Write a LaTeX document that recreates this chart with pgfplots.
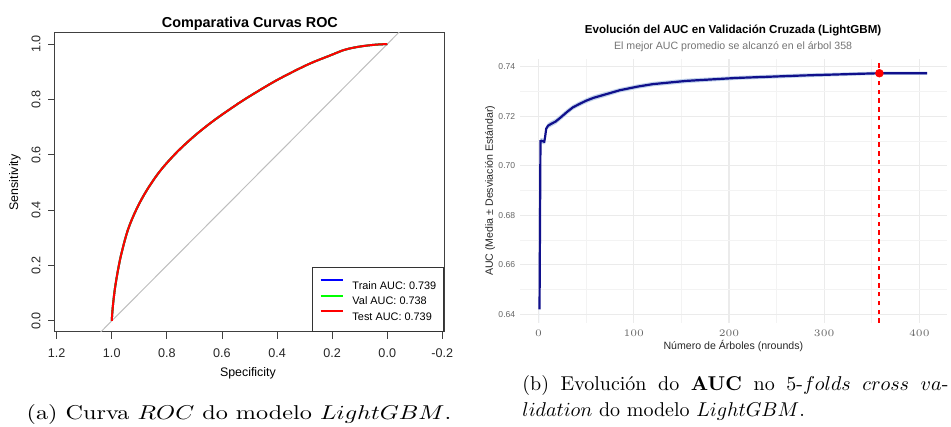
\documentclass[border=0pt]{standalone}
\usepackage{fontspec}
\usepackage{pgfplots}
\usepackage{pgfplotstable}
\pgfplotsset{compat=1.18}
\newfontfamily\arial{Liberation Sans}
\definecolor{diaggray}{HTML}{BEBEBE}
\definecolor{aucblue}{HTML}{10108C}
\definecolor{ribbon}{HTML}{C0D2EA}
\definecolor{gridmaj}{HTML}{EBEBEB}
\definecolor{gridmin}{HTML}{F3F3F3}

% ROC curve (specificity, sensitivity)
\pgfplotstableread{
spec  sens
1.000 0.000
0.998 0.030
0.994 0.072
0.988 0.120
0.978 0.180
0.965 0.243
0.941 0.330
0.910 0.404
0.874 0.470
0.825 0.541
0.765 0.608
0.700 0.668
0.632 0.722
0.559 0.773
0.510 0.805
0.437 0.849
0.389 0.876
0.316 0.913
0.268 0.935
0.207 0.959
0.159 0.978
0.122 0.987
0.086 0.993
0.040 0.998
0.000 1.000
}\roc

% mean AUC by number of trees
\pgfplotstableread{
n    m
1    0.6420
2    0.7100
3    0.7101
4    0.7100
6    0.7097
7    0.7120
8    0.7150
10   0.7162
13   0.7169
18   0.7179
24   0.7198
30   0.7218
36   0.7236
43   0.7250
50   0.7263
58   0.7275
68   0.7286
85   0.7305
104  0.7320
120  0.7330
155  0.7343
208  0.7355
278  0.7365
330  0.7371
358  0.7374
408  0.7374
}\cv

% mean +/- sd band: upper edge left to right, lower edge right to left
\pgfplotstableread{
n    v
1    0.6431
2    0.7111
3    0.7112
4    0.7111
6    0.7108
7    0.7131
8    0.7161
10   0.7173
13   0.7180
18   0.7190
24   0.7209
30   0.7229
36   0.7246
43   0.7260
50   0.7273
58   0.7285
68   0.7296
85   0.7314
104  0.7329
120  0.7339
155  0.7352
208  0.7363
278  0.7373
330  0.7378
358  0.7381
408  0.7381
408  0.7367
358  0.7367
330  0.7364
278  0.7357
208  0.7347
155  0.7334
120  0.7321
104  0.7311
85   0.7296
68   0.7276
58   0.7265
50   0.7253
43   0.7240
36   0.7226
30   0.7207
24   0.7187
18   0.7168
13   0.7158
10   0.7151
8    0.7139
7    0.7109
6    0.7086
4    0.7089
3    0.7090
2    0.7089
1    0.6409
}\band

\begin{document}
\begin{tikzpicture}

% ---- left: ROC curves
\begin{axis}[
  at={(27.5pt,47.5pt)}, anchor=south west,
  scale only axis, width=194.5pt, height=149.5pt,
  clip mode=individual,
  x dir=reverse,
  xmin=-0.206, xmax=1.206, ymin=-0.04, ymax=1.04,
  xtick={-0.2,0,0.2,0.4,0.6,0.8,1.0,1.2},
  xticklabels={-0.2,0.0,0.2,0.4,0.6,0.8,1.0,1.2},
  ytick={0,0.2,0.4,0.6,0.8,1.0},
  yticklabels={0.0,0.2,0.4,0.6,0.8,1.0},
  tick pos=left, tick align=outside, major tick length=3.3pt,
  axis line style={black!75, line width=0.5pt},
  tick style={black!75, line width=0.45pt},
  ticklabel style={font=\arial\fontsize{6.3}{7}\selectfont, text=black!85, inner sep=0pt},
  xticklabel style={anchor=north, yshift=-5pt},
  yticklabel style={xshift=-3.75pt, rotate=90, anchor=south},
  xlabel={Specificity},
  xlabel style={at={(axis description cs:0.496,-0.137)}, anchor=center,
    font=\arial\fontsize{6.2}{7}\selectfont},
  ylabel={Sensitivity},
  ylabel style={at={(axis description cs:-0.103,0.5)}, anchor=center,
    font=\arial\fontsize{6.2}{7}\selectfont},
  legend style={at={(1,0)}, anchor=south east, draw=black!80, line width=0.5pt,
    font=\arial\fontsize{5.45}{7}\selectfont, inner xsep=3.6pt, inner ysep=5.7pt,
    row sep=2.9pt, nodes={inner sep=0pt, text height=4.6pt, text depth=0pt},
    /tikz/every odd column/.append style={column sep=4.5pt}},
  legend cell align=left,
  legend image code/.code={\draw[#1, line width=0.9pt] (0pt,2.1pt) -- (11pt,2.1pt);},
]
\addplot[diaggray, line width=0.5pt, forget plot] coordinates {(1.3,-0.3) (-0.3,1.3)};
\addplot[blue, line width=1.0pt, smooth, tension=0.55] table[x=spec, y=sens] {\roc};
\addlegendentry{Train AUC: 0.739}
\addplot[green, line width=1.0pt, smooth, tension=0.55] table[x=spec, y=sens] {\roc};
\addlegendentry{Val AUC: 0.738}
\addplot[red, line width=1.0pt, smooth, tension=0.55] table[x=spec, y=sens] {\roc};
\addlegendentry{Test AUC: 0.739}
\node[anchor=base, font=\arial\bfseries\fontsize{7.2}{8}\selectfont]
  at (axis description cs:0.501,1.0168) {Comparativa Curvas ROC};
\end{axis}

% ---- right: cross-validated AUC
\begin{axis}[
  at={(260pt,52.05pt)}, anchor=south west,
  scale only axis, width=213.5pt, height=132pt,
  clip mode=individual,
  xmin=-19.5, xmax=429, ymin=0.6365, ymax=0.7432,
  xtick={0,100,200,300,400}, minor xtick={50,150,250,350},
  ytick={0.64,0.66,0.68,0.70,0.72,0.74},
  yticklabels={0.64,0.66,0.68,0.70,0.72,0.74},
  minor ytick={0.65,0.67,0.69,0.71,0.73},
  scaled y ticks=false,
  grid=both,
  major grid style={gridmaj, line width=0.55pt},
  minor grid style={gridmin, line width=0.35pt},
  axis line style={draw=none}, tick style={draw=none},
  major tick length=0pt, minor tick length=0pt,
  ticklabel style={font=\arial\fontsize{4.3}{5}\selectfont, text=black!60, inner sep=0pt},
  xticklabel style={anchor=north, yshift=-3.4pt},
  yticklabel style={anchor=east, xshift=-2.2pt},
  xlabel={Número de Árboles (nrounds)},
  xlabel style={at={(axis description cs:0.4996,-0.0864)}, anchor=center,
    font=\arial\fontsize{5.3}{6}\selectfont, text=black!85},
  ylabel={AUC (Media ± Desviación Estándar)},
  ylabel style={at={(axis description cs:-0.07,0.5)}, anchor=center,
    font=\arial\fontsize{5.3}{6}\selectfont, text=black!85},
]
\addplot[fill=ribbon, draw=none, forget plot] table[x=n, y=v] {\band} \closedcycle;
\addplot[aucblue, line width=1.1pt] table[x=n, y=m] {\cv};
\addplot[draw=red, color=red, line width=1pt, dash pattern=on 2.2pt off 2.2pt]
  coordinates {(358,0.6365) (358,0.7432)};
\addplot[red, only marks, mark=*, mark size=1.9pt] coordinates {(358,0.7374)};
\node[anchor=base, font=\arial\bfseries\fontsize{5.8}{7}\selectfont]
  at (axis description cs:0.499,1.097) {Evolución del AUC en Validación Cruzada (LightGBM)};
\node[anchor=base, font=\arial\fontsize{5.3}{6}\selectfont, text=black!55]
  at (axis description cs:0.499,1.0337) {El mejor AUC promedio se alcanzó en el árbol 358};
\end{axis}

% ---- captions
\node[anchor=base, font=\fontsize{10}{12}\selectfont] at (119.5pt,3.6pt)
  {\scalebox{1.21}[1]{(a) Curva $ROC$ do modelo $LightGBM$.}};
\node[anchor=base west, font=\fontsize{10}{12}\selectfont, inner sep=0pt] at (261pt,18.15pt)
  {\makebox[213pt][s]{(b) Evolución do \textbf{AUC} no 5-$folds$ $cross$ $va$-}};
\node[anchor=base west, font=\fontsize{10}{12}\selectfont, inner sep=0pt] at (261pt,5.15pt)
  {$lidation$ do modelo $LightGBM$.};

\pgfresetboundingbox
\useasboundingbox (0,0) rectangle (475.5pt,213.5pt);
\end{tikzpicture}
\end{document}
